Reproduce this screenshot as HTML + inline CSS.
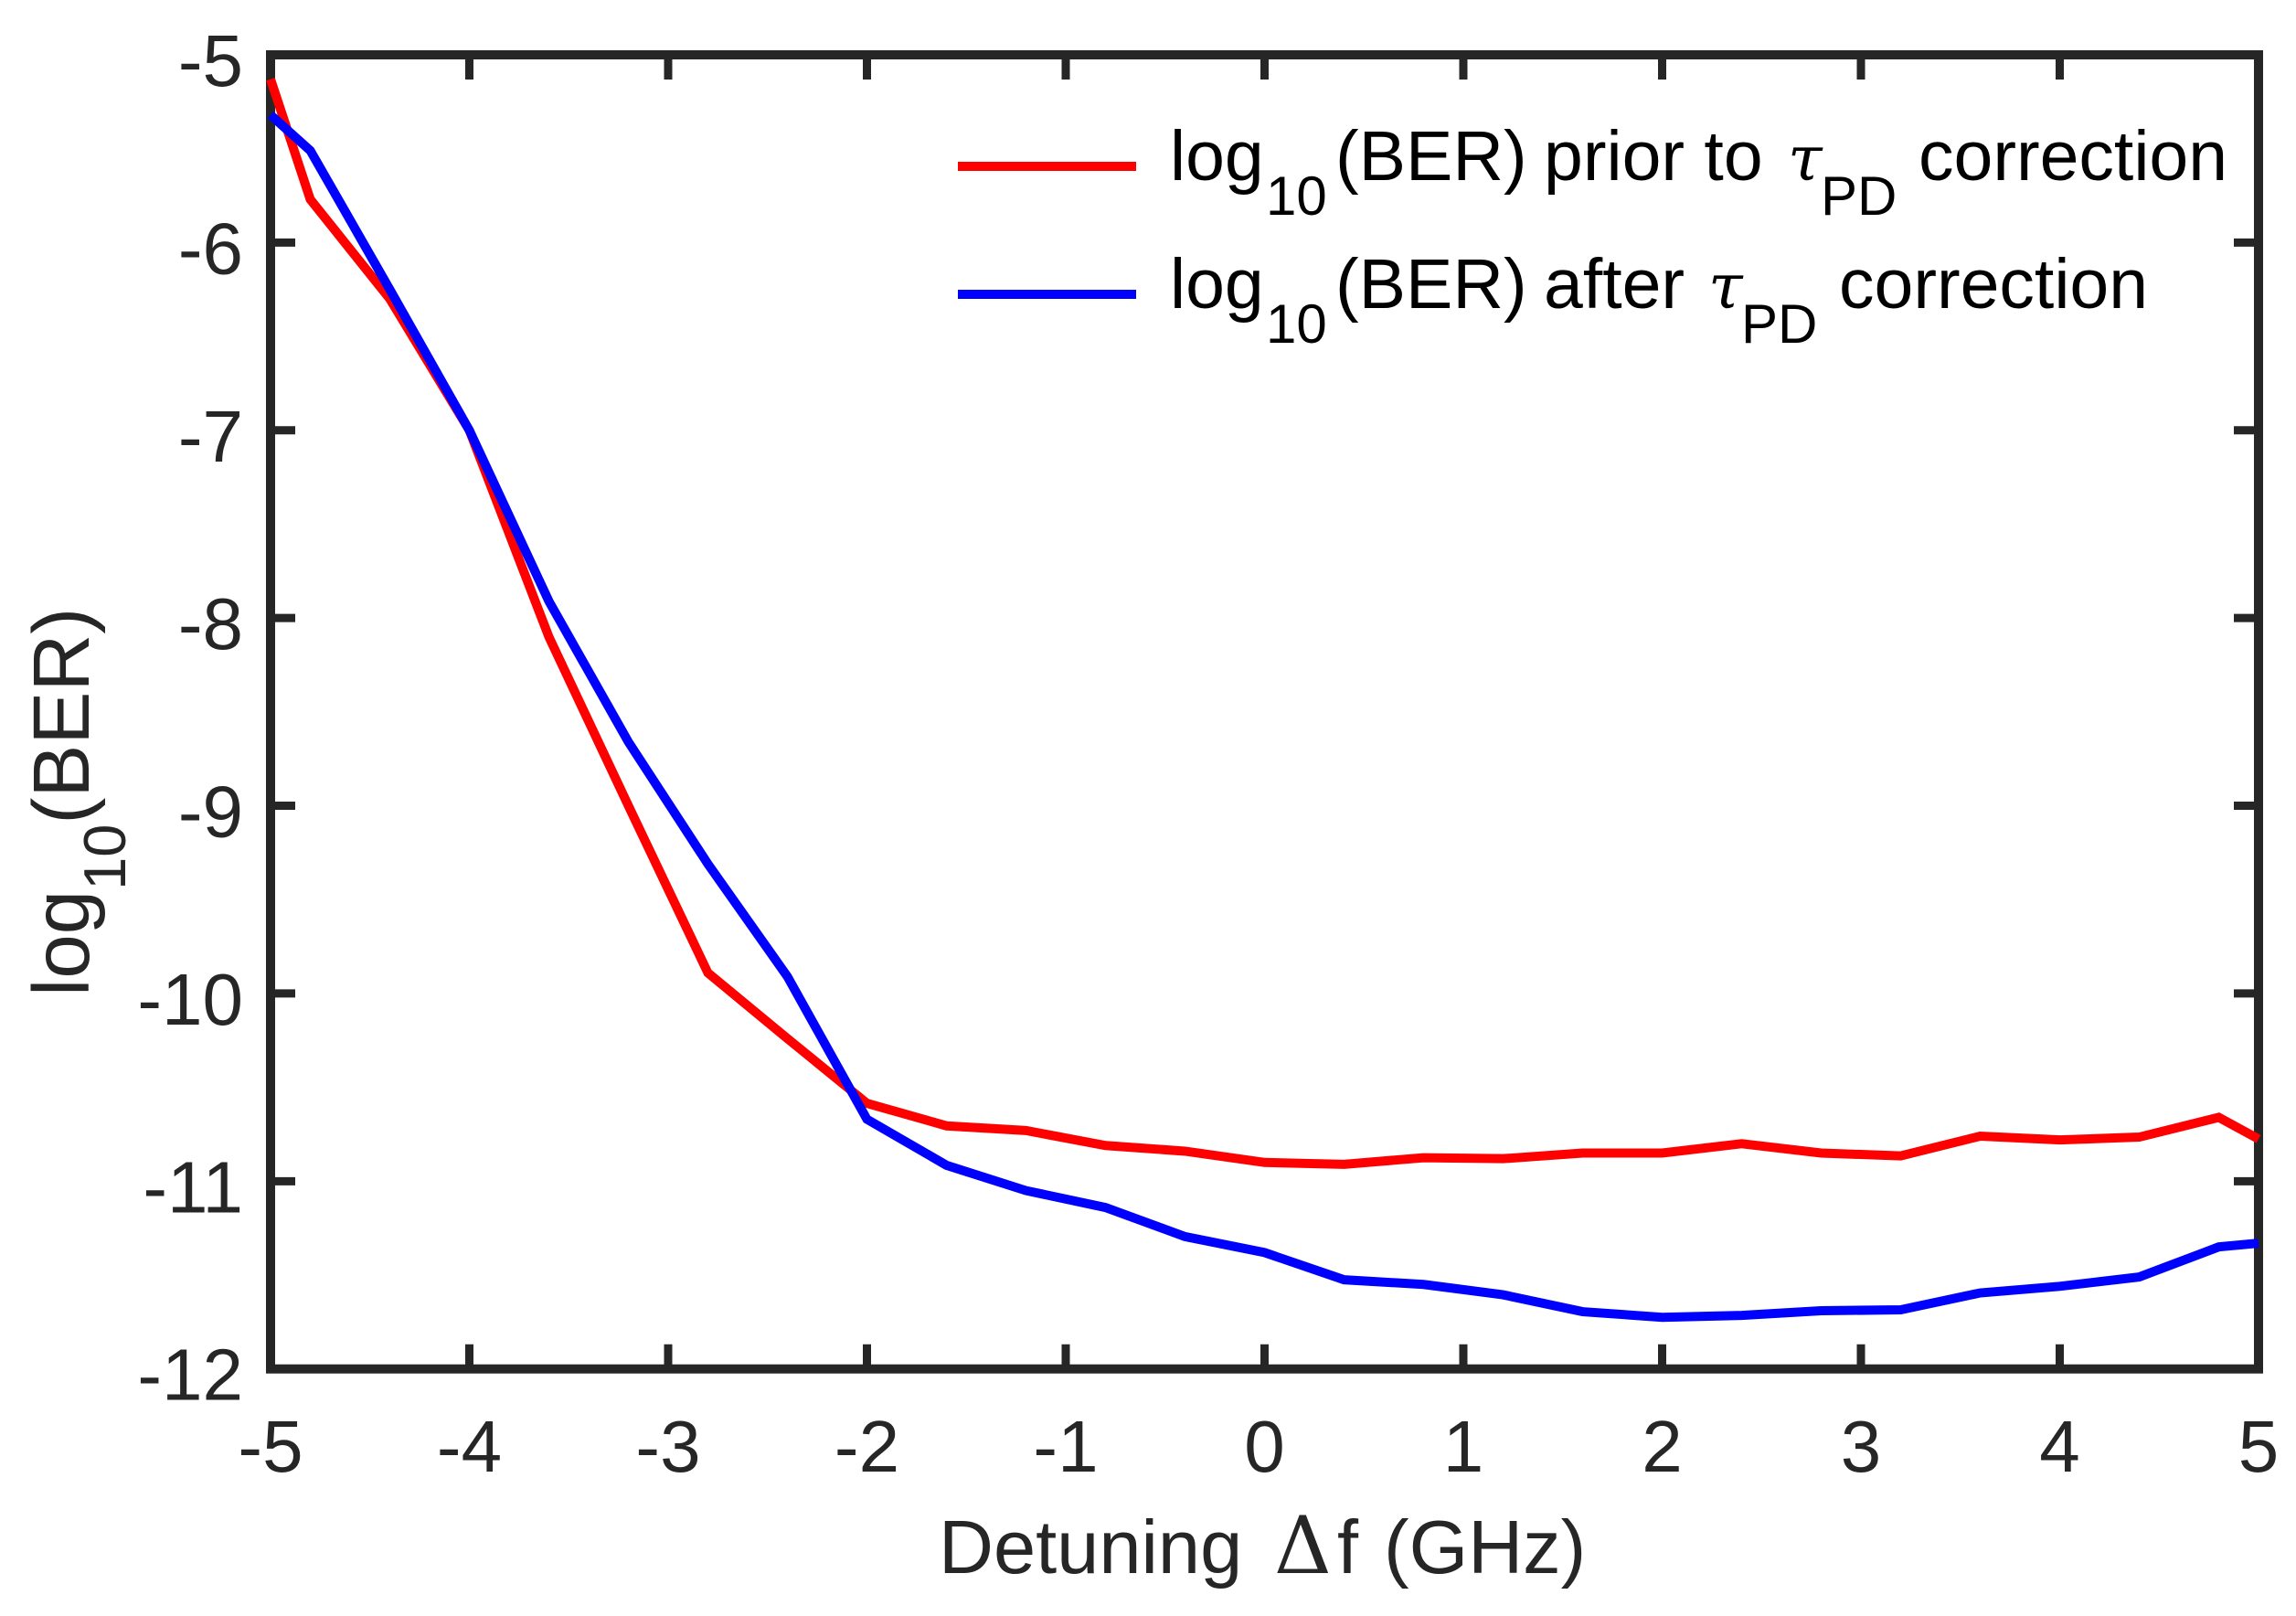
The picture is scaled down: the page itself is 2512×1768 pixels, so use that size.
<!DOCTYPE html>
<html>
<head>
<meta charset="utf-8">
<style>
html,body{margin:0;padding:0;background:#fff}
svg{display:block}
text{font-family:"Liberation Sans",sans-serif}
</style>
</head>
<body>
<svg id="chart" xmlns="http://www.w3.org/2000/svg" width="2512" height="1768" viewBox="0 0 2512 1768">
  <rect x="0" y="0" width="2512" height="1768" fill="#fff"/>
  <g id="axes"></g>
  <g id="series"></g>

  <g>
    <line x1="1048" x2="1243" y1="182" y2="182" stroke="#ff0000" stroke-width="10"/>
    <text y="197" font-size="77" fill="#000"><tspan x="1280">log</tspan><tspan x="1385" font-size="60" dy="38">10</tspan><tspan x="1461" dy="-38">(BER)</tspan><tspan x="1689">prior to</tspan><tspan x="1956" font-family="'DejaVu Serif',serif" font-style="italic" font-size="68">τ</tspan><tspan x="1992" font-size="60" dy="38">PD</tspan><tspan x="2099" dy="-38">correction</tspan></text>
    <line x1="1048" x2="1243" y1="322" y2="322" stroke="#0000ff" stroke-width="10"/>
    <text y="337" font-size="77" fill="#000"><tspan x="1280">log</tspan><tspan x="1385" font-size="60" dy="38">10</tspan><tspan x="1461" dy="-38">(BER)</tspan><tspan x="1689">after</tspan><tspan x="1869" font-family="'DejaVu Serif',serif" font-style="italic" font-size="68">τ</tspan><tspan x="1905" font-size="60" dy="38">PD</tspan><tspan x="2012" dy="-38">correction</tspan></text>
  </g>

  <text y="1721" font-size="83" fill="#262626"><tspan x="1027">Detuning</tspan><tspan x="1394" font-size="87" font-family="'DejaVu Serif',serif">Δ</tspan><tspan x="1463">f</tspan><tspan x="1514">(GHz)</tspan></text>
  <text transform="translate(97,1090) rotate(-90)" x="0" y="0" font-size="87" fill="#262626">log<tspan font-size="65" dy="40">10</tspan><tspan dy="-40">(BER)</tspan></text>
</svg>
<script>
const detuning = [-5,-4.8,-4.4,-4,-3.6,-3.2,-2.8,-2.4,-2,-1.6,-1.2,-0.8,-0.4,0,0.4,0.8,1.2,1.6,2,2.4,2.8,3.2,3.6,4,4.4,4.8,5];
const berPrior = [-5.13,-5.77,-6.3,-7.0,-8.1,-9.0,-9.89,-10.24,-10.585,-10.705,-10.73,-10.81,-10.84,-10.9,-10.91,-10.875,-10.88,-10.85,-10.85,-10.8,-10.85,-10.865,-10.76,-10.78,-10.765,-10.66,-10.775];
const berAfter = [-5.32,-5.51,-6.25,-7.0,-7.91,-8.66,-9.31,-9.91,-10.67,-10.915,-11.05,-11.14,-11.295,-11.38,-11.525,-11.55,-11.605,-11.695,-11.725,-11.715,-11.69,-11.685,-11.595,-11.56,-11.51,-11.35,-11.33];
const xTicks = [-5,-4,-3,-2,-1,0,1,2,3,4,5];
const yTicks = [-5,-6,-7,-8,-9,-10,-11,-12];

const NS = 'http://www.w3.org/2000/svg';
const plot = {left:296, right:2471, top:60, bottom:1497.7};
const xDomain = [-5, 5];
const yDomain = [-12, -5];
function xScale(v){ return plot.left + (v - xDomain[0]) / (xDomain[1] - xDomain[0]) * (plot.right - plot.left); }
function yScale(v){ return plot.bottom - (v - yDomain[0]) / (yDomain[1] - yDomain[0]) * (plot.bottom - plot.top); }

const axes = document.getElementById('axes');
const series = document.getElementById('series');
const AXIS = '#262626';
const TICK = 27;

function drawLine(x1, y1, x2, y2, w){
  const l = document.createElementNS(NS, 'line');
  l.setAttribute('x1', x1);
  l.setAttribute('y1', y1);
  l.setAttribute('x2', x2);
  l.setAttribute('y2', y2);
  l.setAttribute('stroke', AXIS);
  l.setAttribute('stroke-width', w);
  axes.appendChild(l);
  return l;
}

const frame = document.createElementNS(NS, 'rect');


frame.setAttribute('x', plot.left);
frame.setAttribute('y', plot.top);
frame.setAttribute('width', plot.right - plot.left);
frame.setAttribute('height', plot.bottom - plot.top);
frame.setAttribute('fill', 'none');
frame.setAttribute('stroke', AXIS);
frame.setAttribute('stroke-width', 10);
axes.appendChild(frame);

xTicks.forEach(function(v){
  const x = xScale(v);
  const b = drawLine(x, plot.bottom, x, plot.bottom - TICK, 9);
  
  
  const t = drawLine(x, plot.top, x, plot.top + TICK, 9);
  
  
  const label = document.createElementNS(NS, 'text');
  
  
  label.setAttribute('x', x);
  label.setAttribute('y', 1610);
  label.setAttribute('font-size', 80);
  label.setAttribute('fill', AXIS);
  label.setAttribute('text-anchor', 'middle');
  label.textContent = v;
  axes.appendChild(label);
});

yTicks.forEach(function(v){
  const y = yScale(v);
  const a = drawLine(plot.left, y, plot.left + TICK, y, 9);
  
  
  const c = drawLine(plot.right, y, plot.right - TICK, y, 9);
  
  
  const label = document.createElementNS(NS, 'text');
  
  
  label.setAttribute('x', 266);
  label.setAttribute('y', y + 34);
  label.setAttribute('font-size', 80);
  label.setAttribute('fill', AXIS);
  label.setAttribute('text-anchor', 'end');
  label.textContent = v;
  axes.appendChild(label);
});

function pathFor(values){
  return values.map(function(v, i){
    return (i ? 'L' : 'M') + xScale(detuning[i]).toFixed(2) + ' ' + yScale(v).toFixed(2);
  }).join(' ');
}

const priorLine = document.createElementNS(NS, 'path');


priorLine.setAttribute('d', pathFor(berPrior));
priorLine.setAttribute('fill', 'none');
priorLine.setAttribute('stroke', '#ff0000');
priorLine.setAttribute('stroke-width', 10);
series.appendChild(priorLine);

const afterLine = document.createElementNS(NS, 'path');


afterLine.setAttribute('d', pathFor(berAfter));
afterLine.setAttribute('fill', 'none');
afterLine.setAttribute('stroke', '#0000ff');
afterLine.setAttribute('stroke-width', 10);
series.appendChild(afterLine);
</script>
</body>
</html>
